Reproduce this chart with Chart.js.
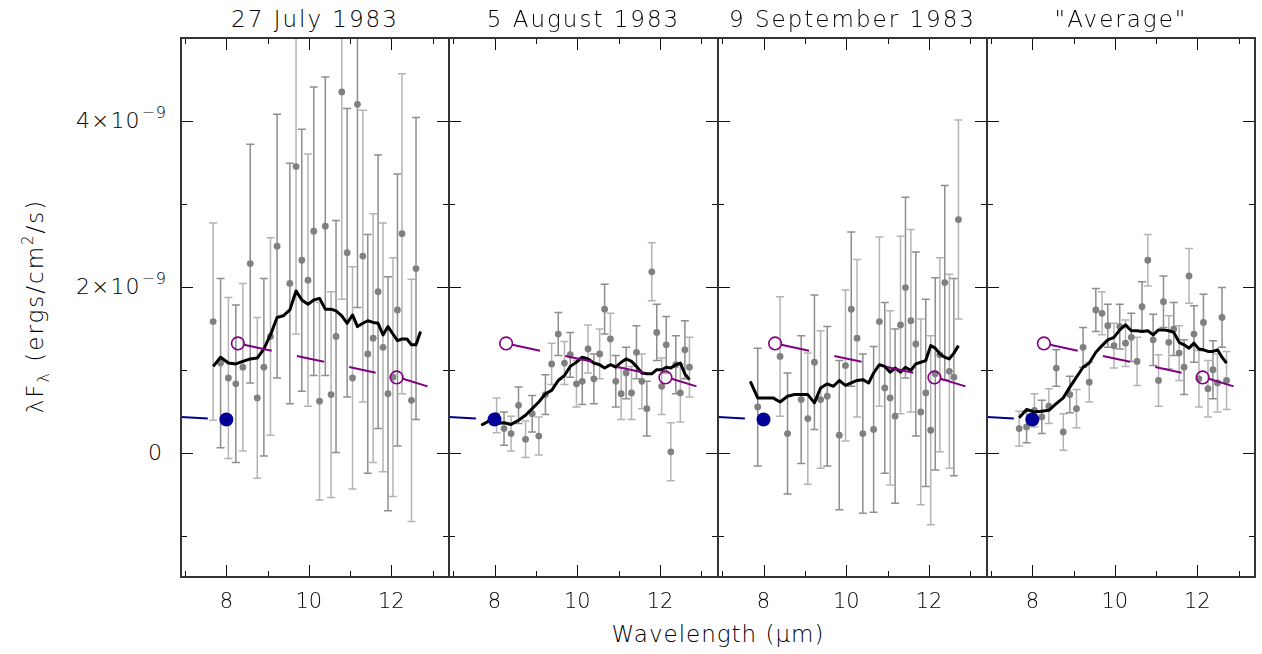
<!DOCTYPE html>
<html>
<head>
<meta charset="utf-8">
<title>Mid-infrared spectra, 1983</title>
<script src="https://cdn.jsdelivr.net/npm/chart.js@4.4.1/dist/chart.umd.min.js"></script>
<style>
  html, body { margin: 0; padding: 0; background: #fff; }
  #wrap { position: relative; width: 1262px; height: 654px; overflow: hidden;
          font-family: "DejaVu Sans", sans-serif; font-weight: 200; color: #000; }
  #wrap canvas { position: absolute; }
  .ptitle { position: absolute; top: 8px; font-size: 23px; line-height: 23px; letter-spacing: 2px;
            transform: translateX(-50%); white-space: nowrap; }
  .ylab { position: absolute; font-size: 22px; line-height: 22px; letter-spacing: 1px;
          transform: translateY(-50%); white-space: nowrap; }
  .ylab sup { font-size: 16px; vertical-align: 10px; line-height: 0; margin-left: 1px; }
  #ytitle { position: absolute; left: 35px; top: 306px; font-size: 23px; letter-spacing: 2px;
            white-space: nowrap; transform: translate(-50%, -50%) rotate(-90deg); }
  #ytitle sub { font-size: 16px; vertical-align: -6px; line-height: 0; }
  #ytitle sup { font-size: 15px; vertical-align: 10px; line-height: 0; }
  #xtitle { position: absolute; left: 718px; top: 623px; font-size: 23px; line-height: 23px;
            letter-spacing: 1px; transform: translateX(-50%); white-space: nowrap; }
</style>
</head>
<body>
<div id="wrap">
  <div id="ytitle">&lambda;F<sub>&lambda;</sub> (ergs/cm<sup>2</sup>/s)</div>
  <div id="xtitle">Wavelength (&mu;m)</div>
</div>
<script>
// wavelength grid (um), shared by all four spectra
const wave = [7.68, 7.86, 8.05, 8.23, 8.40, 8.58, 8.75, 8.91, 9.07, 9.23, 9.38, 9.54, 9.69,
  9.83, 9.98, 10.12, 10.26, 10.40, 10.54, 10.66, 10.80, 10.93, 11.06, 11.18, 11.31, 11.43,
  11.56, 11.68, 11.80, 11.92, 12.04, 12.15, 12.26, 12.38, 12.49, 12.60, 12.71];

// flux in units of 1e-9 ergs/cm2/s
const fluxJul27 = [1.58, 1.08, 0.90, 0.83, 1.03, 2.28, 0.66, 1.03, 1.40, 2.49, null, 2.04, 3.45,
  2.32, 2.08, 2.67, 0.62, 2.73, 0.70, 1.40, 4.35, 2.41, 0.90, 4.20, 2.37, 1.19,
  1.38, 1.94, 1.27, 0.71, 0.91, 1.72, 2.64, null, 0.63, 2.22, null];
const errJul27 = [1.19, 1.02, 0.97, 0.95, 1.01, 1.44, 0.97, 1.07, 1.19, 1.59, 0, 1.45, 2.02,
  1.58, 1.52, 1.74, 1.19, 1.80, 1.24, 1.40, 2.50, 1.74, 1.34, 2.45, 1.76, 1.44,
  1.50, 1.65, 1.50, 1.41, 1.44, 1.64, 1.93, 0, 1.46, 1.82, 0];
const smoothJul27 = [1.04, 1.15, 1.08, 1.07, 1.10, 1.13, 1.14, 1.25, 1.42, 1.63, 1.65, 1.72, 1.95,
  1.84, 1.79, 1.84, 1.86, 1.73, 1.73, 1.71, 1.65, 1.56, 1.66, 1.52, 1.56, 1.59,
  1.57, 1.56, 1.42, 1.52, 1.43, 1.35, 1.37, 1.37, 1.30, 1.30, 1.46];

const fluxAug5 = [null, null, 0.45, 0.29, 0.23, 0.57, 0.16, 0.47, 0.20, 0.70, 1.07, 1.43, 1.08,
  1.18, 0.83, 0.86, 1.25, 0.89, 1.19, 1.73, 1.37, 0.86, 0.71, 0.96, 0.72, 1.21,
  0.86, 0.53, 2.18, 1.45, 0.80, 1.30, 0.01, 1.06, 0.72, 1.24, 1.03];
const errAug5 = [0, 0, 0.21, 0.20, 0.21, 0.22, 0.22, 0.22, 0.23, 0.24, 0.25, 0.26, 0.26,
  0.27, 0.28, 0.28, 0.29, 0.30, 0.30, 0.30, 0.31, 0.31, 0.31, 0.31, 0.32, 0.32,
  0.33, 0.33, 0.35, 0.34, 0.34, 0.34, 0.35, 0.35, 0.35, 0.35, 0.36];
const smoothAug5 = [0.33, 0.38, 0.35, 0.36, 0.34, 0.39, 0.45, 0.53, 0.61, 0.71, 0.75, 0.87, 0.93,
  1.04, 1.09, 1.15, 1.13, 1.08, 1.06, 1.02, 1.06, 1.03, 1.09, 1.13, 1.10, 1.04,
  0.96, 0.95, 0.95, 1.00, 1.00, 1.03, 1.02, 1.06, 1.08, 0.95, 0.88];

const fluxSep9 = [null, 0.55, null, null, 1.16, 0.23, null, 0.64, 0.41, 1.09, 0.64, 0.68, null,
  0.21, 1.05, 1.73, 1.38, 0.23, null, 0.28, 1.58, 0.78, 0.66, 0.44, 1.54, 1.99,
  1.59, 1.31, 0.49, 0.72, 0.27, 0.95, 1.18, 2.05, 0.98, 0.91, 2.81];
const errSep9 = [0, 0.71, 0, 0, 0.72, 0.73, 0, 0.77, 0.79, 0.81, 0.83, 0.84, 0,
  0.90, 0.91, 0.93, 0.95, 0.96, 0, 1.00, 1.02, 1.03, 1.05, 1.05, 1.07, 1.09,
  1.10, 1.11, 1.12, 1.13, 1.14, 1.16, 1.17, 1.17, 1.17, 1.19, 1.20];
const smoothSep9 = [0.86, 0.66, 0.66, 0.66, 0.61, 0.68, 0.70, 0.70, 0.70, 0.60, 0.78, 0.83, 0.80,
  0.87, 0.81, 0.84, 0.87, 0.88, 0.84, 0.96, 1.06, 1.04, 0.97, 1.02, 0.97, 1.03,
  0.99, 1.07, 1.09, 1.11, 1.29, 1.26, 1.19, 1.15, 1.13, 1.20, 1.29];

const fluxAvg = [0.29, 0.31, 0.51, 0.43, 0.56, 1.02, 0.25, 0.70, 0.53, 1.27, 0.85, 1.72, 1.68,
  1.53, 1.29, 1.52, 1.32, 1.39, 1.10, 1.76, 2.32, 1.36, 0.87, 1.82, 1.33, 1.49,
  1.20, 1.03, 2.13, 1.43, 0.89, 1.57, 0.77, 1.00, 0.84, 1.63, 0.87];
const errAvg = [0.21, 0.19, 0.20, 0.20, 0.21, 0.22, 0.22, 0.22, 0.23, 0.24, 0.24, 0.26, 0.26,
  0.26, 0.27, 0.27, 0.28, 0.29, 0.29, 0.30, 0.31, 0.31, 0.31, 0.31, 0.32, 0.32,
  0.33, 0.33, 0.33, 0.34, 0.34, 0.34, 0.34, 0.35, 0.35, 0.36, 0.35];
const smoothAvg = [0.42, 0.52, 0.49, 0.50, 0.51, 0.59, 0.66, 0.79, 0.91, 1.03, 1.08, 1.21, 1.29,
  1.36, 1.39, 1.48, 1.54, 1.47, 1.47, 1.46, 1.47, 1.42, 1.48, 1.48, 1.47, 1.45,
  1.33, 1.30, 1.26, 1.32, 1.25, 1.24, 1.22, 1.22, 1.24, 1.15, 1.08];

// photometry overlaid on every panel
const blueLineX = [6.9, 7.55];
const blueLineY = [0.43, 0.41];
const blueDotX = [8.0];
const blueDotY = [0.40];
const openX = [8.28, 12.13];
const openY = [1.317, 0.907];
const segX = [[8.43, 9.10], [9.71, 10.37], [10.98, 11.62], [12.28, 12.88]];
const segY = [[1.30, 1.229], [1.165, 1.096], [1.032, 0.964], [0.89, 0.799]];

const titles = ['27 July 1983', '5 August 1983', '9 September 1983', '"Average"'];
const xTicks = [7, 8, 9, 10, 11, 12, 13];
const yTicks = [-1, 0, 1, 2, 3, 4];
const yLabelTicks = [4, 2, 0];

const panels = [
  [fluxJul27, errJul27, smoothJul27],
  [fluxAug5, errAug5, smoothAug5],
  [fluxSep9, errSep9, smoothSep9],
  [fluxAvg, errAvg, smoothAvg]
];

// layout
const EDGES = [181, 449, 718, 987, 1255];
const PLOT_TOP = 38, PLOT_H = 539, PAD = 4, AXIS_H = 40;

const pts = (xs, ys) => xs.map((x, i) => ({ x: x, y: ys[i] }));

function errorBars(flux, err) {
  return {
    id: 'errorBars',
    beforeDatasetsDraw(chart) {
      const { ctx, chartArea: a, scales: { x, y } } = chart;
      ctx.save();
      ctx.beginPath();
      ctx.rect(a.left, a.top, a.width, a.height);
      ctx.clip();
      ctx.lineWidth = 1.5;
      flux.forEach((v, i) => {
        if (v === null) return;
        const px = x.getPixelForValue(wave[i]);
        const top = y.getPixelForValue(v + err[i]);
        const bot = y.getPixelForValue(v - err[i]);
        ctx.strokeStyle = i % 2 ? '#8e8e8e' : '#b4b4b4';
        ctx.beginPath();
        ctx.moveTo(px, top); ctx.lineTo(px, bot);
        ctx.moveTo(px - 4, top); ctx.lineTo(px + 4, top);
        ctx.moveTo(px - 4, bot); ctx.lineTo(px + 4, bot);
        ctx.stroke();
      });
      ctx.restore();
    }
  };
}

const frame = {
  id: 'frame',
  afterDraw(chart) {
    const { ctx, chartArea: a, scales: { x, y } } = chart;
    ctx.save();
    ctx.strokeStyle = '#111';
    ctx.lineWidth = 1;
    ctx.beginPath();
    xTicks.forEach(v => {
      const px = Math.round(x.getPixelForValue(v)) + 0.5;
      const len = v % 2 === 0 ? 12 : 6;
      ctx.moveTo(px, a.bottom); ctx.lineTo(px, a.bottom - len);
      ctx.moveTo(px, a.top); ctx.lineTo(px, a.top + len);
    });
    yTicks.forEach(v => {
      const py = Math.round(y.getPixelForValue(v)) + 0.5;
      const len = v % 2 === 0 ? 12 : 6;
      ctx.moveTo(a.left, py); ctx.lineTo(a.left + len, py);
      ctx.moveTo(a.right, py); ctx.lineTo(a.right - len, py);
    });
    ctx.stroke();
    ctx.lineWidth = 2;
    ctx.strokeStyle = '#333';
    ctx.strokeRect(a.left, a.top, a.width, a.height);
    ctx.restore();
  }
};

const wrap = document.getElementById('wrap');
const charts = [];

panels.forEach(([flux, err, smooth], k) => {
  const left = EDGES[k], w = EDGES[k + 1] - EDGES[k];
  const cv = document.createElement('canvas');
  cv.width = w + 2 * PAD;
  cv.height = PAD + PLOT_H + AXIS_H;
  cv.style.left = (left - PAD) + 'px';
  cv.style.top = (PLOT_TOP - PAD) + 'px';
  wrap.appendChild(cv);

  const t = document.createElement('div');
  t.className = 'ptitle';
  t.textContent = titles[k];
  t.style.left = (left + w / 2) + 'px';
  wrap.appendChild(t);

  const chart = new Chart(cv, {
    type: 'scatter',
    data: {
      datasets: [
        { data: pts(wave, flux), pointRadius: 3.4, backgroundColor: '#808080', borderWidth: 0, order: 6 },
        { data: pts(wave, smooth), showLine: true, borderColor: '#000', borderWidth: 3,
          borderJoinStyle: 'round', pointRadius: 0, order: 5 },
        ...segX.map((sx, j) => ({ data: pts(sx, segY[j]), showLine: true, borderColor: '#800080',
          borderWidth: 2, pointRadius: 0, order: 4 })),
        { data: pts(blueLineX, blueLineY), showLine: true, borderColor: '#00008b', borderWidth: 2,
          pointRadius: 0, order: 3 },
        { data: pts(blueDotX, blueDotY), pointRadius: 7, backgroundColor: '#000096', borderWidth: 0, order: 2 },
        { data: pts(openX, openY), pointRadius: 6.3, backgroundColor: 'rgba(0,0,0,0)',
          borderColor: '#800080', borderWidth: 1.6, order: 1 }
      ]
    },
    options: {
      responsive: false,
      animation: false,
      events: [],
      layout: { autoPadding: false, padding: { left: PAD, right: PAD, top: PAD, bottom: 0 } },
      plugins: { legend: { display: false }, tooltip: { enabled: false } },
      scales: {
        x: {
          type: 'linear', min: 6.9, max: 13.4,
          afterBuildTicks: s => { s.ticks = xTicks.map(v => ({ value: v })); },
          afterFit: s => { s.height = AXIS_H; s.paddingLeft = 0; s.paddingRight = 0; },
          grid: { display: false, drawTicks: false },
          border: { display: false },
          ticks: {
            autoSkip: false, maxRotation: 0, padding: 13, color: '#000',
            font: { family: 'DejaVu Sans', size: 21, weight: 200 },
            callback: v => (v % 2 === 0 ? String(v) : '')
          }
        },
        y: { type: 'linear', min: -1.5, max: 5, display: false }
      }
    },
    plugins: [errorBars(flux, err), frame]
  });
  charts.push(chart);
});

// y tick labels for the first panel, placed through its y scale
const ys = charts[0].scales.y;
yLabelTicks.forEach(v => {
  const s = document.createElement('span');
  s.className = 'ylab';
  s.innerHTML = v === 0 ? '0' : v + '&times;10<sup>&minus;9</sup>';
  s.style.top = (ys.getPixelForValue(v) + PLOT_TOP - PAD) + 'px';
  s.style.right = (1262 - (v === 0 ? 163 : 167)) + 'px';
  wrap.appendChild(s);
});
</script>
</body>
</html>
